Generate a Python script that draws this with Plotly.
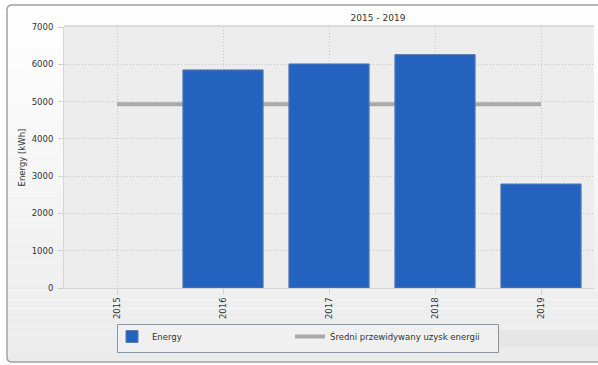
import plotly.graph_objects as go

years = ["2015", "2016", "2017", "2018", "2019"]
energy = [None, 5850, 6010, 6260, 2790]
avg_expected = [4930, 4930, 4930, 4930, 4930]
y_ticks = [0, 1000, 2000, 3000, 4000, 5000, 6000, 7000]

W, H = 598, 365
L, R, T, B = 64, 594, 27, 288
PW, PH = R - L, B - T


def px(x):
    return (x - L) / PW


def py(y):
    return (B - y) / PH


FONT = "DejaVu Sans"
TXT = "#333333"

fig = go.Figure()

fig.add_trace(go.Bar(
    x=years, y=energy, name="Energy",
    xaxis="x2", yaxis="y", legend="legend",
    marker=dict(color="#2462BF", line=dict(color="#5a7cb0", width=1)),
))
fig.add_trace(go.Scatter(
    x=years, y=avg_expected, name="Średni przewidywany uzysk energii",
    mode="lines", line=dict(color="#A9A9A9", width=4),
    xaxis="x", yaxis="y", legend="legend2",
))

shapes = []
# background gradient of the frame
N = 40
y_top, y_bot = 5, 362
for i in range(N):
    a = y_top + (y_bot - y_top) * i / N
    b = y_top + (y_bot - y_top) * (i + 1) / N
    c = int(round(255 - (255 - 235) * (i + 0.5) / N))
    shapes.append(dict(type="rect", xref="paper", yref="paper",
                       x0=px(8), x1=px(600), y0=py(a), y1=py(b),
                       fillcolor=f"rgb({c},{c},{c})", line=dict(width=0), layer="below"))
# band to the right of legend
shapes.append(dict(type="rect", xref="paper", yref="paper",
                   x0=px(498), x1=px(600), y0=py(330), y1=py(347),
                   fillcolor="#e6e6e6", line=dict(width=0), layer="below"))
# legend box
shapes.append(dict(type="rect", xref="paper", yref="paper",
                   x0=px(117.5), x1=px(498.5), y0=py(324.5), y1=py(352.5),
                   fillcolor="#f0f0f0", line=dict(color="#8494a4", width=1), layer="below"))
# plot area background
shapes.append(dict(type="rect", xref="paper", yref="paper",
                   x0=0, x1=1, y0=0, y1=1,
                   fillcolor="#EDEDED", line=dict(width=0), layer="below"))
# top light border of plot area
shapes.append(dict(type="rect", xref="paper", yref="paper",
                   x0=0, x1=1, y0=1, y1=py(25),
                   fillcolor="#dcdcdc", line=dict(width=0), layer="below"))


def P(x, y):
    return f"{px(x):.5f},{py(y):.5f}"


frame = (f"M {P(12,5)} L {P(600,5)} L {P(600,362)} L {P(12,362)} "
         f"Q {P(7,362)} {P(7,357)} L {P(7,10)} Q {P(7,5)} {P(12,5)} Z")
shapes.append(dict(type="path", xref="paper", yref="paper", path=frame,
                   line=dict(color="#a0a0a0", width=1.5), layer="above"))

axis_common = dict(
    showgrid=True, gridcolor="#c6c6c6", griddash="1px,2px", gridwidth=1,
    zeroline=False, showline=True, linecolor="#d6d6d6", linewidth=1,
    ticks="outside", ticklen=5, tickcolor="#cfcfcf",
    tickfont=dict(family=FONT, size=8.5, color=TXT),
)

legend_common = dict(orientation="h", yanchor="top", xanchor="left",
                     bgcolor="rgba(0,0,0,0)", borderwidth=0,
                     font=dict(family=FONT, size=8.5, color=TXT))

fig.update_layout(
    width=W, height=H,
    margin=dict(l=L, r=W - R, t=T, b=H - B, pad=0),
    paper_bgcolor="white",
    plot_bgcolor="rgba(0,0,0,0)",
    font=dict(family=FONT, size=8.5, color=TXT),
    title=dict(text="2015 - 2019", x=px(378), xref="paper", xanchor="center",
               y=1 - 18 / H, yref="container", yanchor="middle",
               font=dict(family=FONT, size=9, color=TXT)),
    xaxis=dict(type="category", categoryarray=years, range=[-0.5, 4.5],
               tickangle=-90, **axis_common),
    xaxis2=dict(type="category", categoryarray=years, range=[-0.5, 4.5],
                overlaying="x", visible=False),
    yaxis=dict(range=[0, 7000], tickvals=y_ticks, mirror=False,
               ticklabelstandoff=3,
               title=dict(text="Energy [kWh]", standoff=4,
                          font=dict(family=FONT, size=8.5, color=TXT)),
               **axis_common),
    bargap=0.243,
    showlegend=True,
    legend=dict(x=px(112), y=py(322), **legend_common),
    legend2=dict(x=px(290), y=py(322), **legend_common),
    shapes=shapes,
)

fig.write_html("out.html")
